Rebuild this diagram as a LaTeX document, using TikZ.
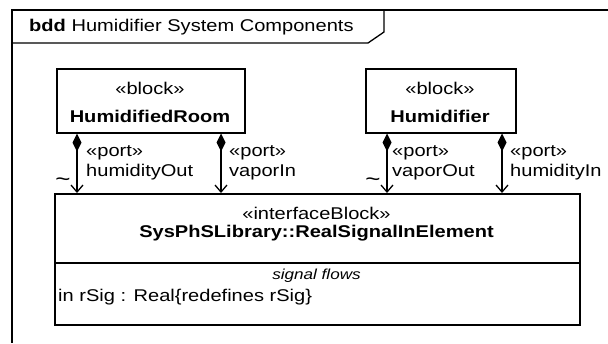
\documentclass[tikz,border=0pt]{standalone}
\usepackage{fontspec}
\setmainfont{Liberation Sans}[FakeStretch=1.18]
\usetikzlibrary{arrows.meta}
\begin{document}
\begin{tikzpicture}[x=1pt,y=-1pt,
  frame/.style={line width=1.3pt},
  blk/.style={draw,line width=1.5pt,inner sep=0pt,anchor=north west},
  txt/.style={inner sep=0pt,font=\fontsize{17}{19}\selectfont},
  small/.style={inner sep=0pt,font=\fontsize{14.5}{17}\selectfont\itshape},
  lbl/.style={txt,anchor=west,align=left,font=\fontsize{17}{19.5}\selectfont},
  tilde/.style={inner sep=0pt,font=\fontsize{22}{22}\selectfont},
  conn/.style={line width=1.3pt,{Diamond[length=18pt,width=9pt]}-{Straight Barb[length=7pt,width=12pt]}},
  ]
\useasboundingbox (0,0) rectangle (608,343);
% frame
\draw[frame] (608,10) -- (12,10) -- (12,343);
\draw[frame] (12,43) -- (368,43) -- (384,32) -- (384,10);
\node[txt,anchor=west] (title) at (29,27) {\textbf{bdd} Humidifier System Components};
% blocks
\node[blk,minimum width=188pt,minimum height=64pt] (hr) at (56,68) {};
\node[txt] (hrs) at (150,88) {«block»};
\node[txt] (hrn) at (150,116) {\textbf{HumidifiedRoom}};
\node[blk,minimum width=150pt,minimum height=64pt] (hu) at (365,68) {};
\node[txt] (hus) at (440,88) {«block»};
\node[txt] (hun) at (440,116) {\textbf{Humidifier}};
% interface block
\node[blk,minimum width=525pt,minimum height=131pt] (ib) at (54,193) {};
\coordinate (div) at (0,263);
\draw[line width=1.5pt] (ib.west |- div) -- (ib.east |- div);
\node[txt] (ibs) at (316.5,213) {«interfaceBlock»};
\node[txt] (ibn) at (316.5,233) {\textbf{SysPhSLibrary::RealSignalInElement}};
\node[small] (ibc) at (316.5,276) {signal flows};
\node[txt,anchor=west] (iba) at (58,297) {in rSig : Real\{redefines rSig\}};
% connectors
\coordinate (c1) at (77,0);
\coordinate (c2) at (221,0);
\coordinate (c3) at (387,0);
\coordinate (c4) at (502,0);
\draw[conn] (c1 |- hr.south) -- (c1 |- ib.north);
\draw[conn] (c2 |- hr.south) -- (c2 |- ib.north);
\draw[conn] (c3 |- hu.south) -- (c3 |- ib.north);
\draw[conn] (c4 |- hu.south) -- (c4 |- ib.north);
% port labels
\node[lbl] (l1) at (86,163) {«port»\\humidityOut};
\node[lbl] (l2) at (229,163) {«port»\\vaporIn};
\node[lbl] (l3) at (392,163) {«port»\\vaporOut};
\node[lbl] (l4) at (510,163) {«port»\\humidityIn};
\node[tilde] (t1) at (63,182) {\textasciitilde};
\node[tilde] (t2) at (373,182) {\textasciitilde};
\end{tikzpicture}
\end{document}
